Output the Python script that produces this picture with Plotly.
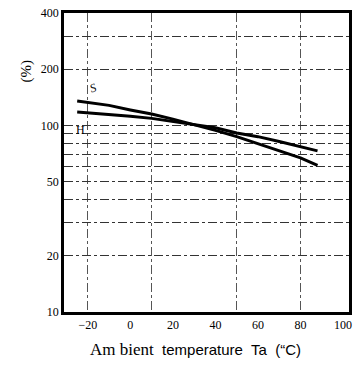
import math
import plotly.graph_objects as go

# Data (ambient temperature in degC vs. percent)
temp = [-25, -10, 0, 10, 20, 30, 40, 50, 60, 70, 80, 88]
s_vals = [135, 128, 121, 115, 108, 101, 94, 87, 80, 73, 67, 61]
h_vals = [118, 115, 112, 109, 105, 101, 97, 91, 87, 82, 77, 73]

x_ticks = [-20, 0, 20, 40, 60, 80, 100]
x_tick_text = ["\u221220", "0", "20", "40", "60", "80", "100"]
x_grid = [-20, 10, 50, 80]
y_ticks = [10, 20, 50, 100, 200, 400]
y_grid = [20, 30, 40, 50, 60, 70, 80, 90, 100, 200, 300]

serif = "Liberation Serif, Times New Roman, serif"
sans = "Liberation Sans, Arial, sans-serif"

fig = go.Figure()
fig.add_trace(go.Scatter(x=temp, y=s_vals, mode="lines", line=dict(color="black", width=3), showlegend=False))
fig.add_trace(go.Scatter(x=temp, y=h_vals, mode="lines", line=dict(color="black", width=3), showlegend=False))

fig.add_annotation(x=-17.5, y=math.log10(158), text="<i>S</i>", showarrow=False,
                   font=dict(family=serif, size=12, color="black"), textangle=-20)
fig.add_annotation(x=-23.5, y=math.log10(95), text="H", showarrow=False,
                   font=dict(family=serif, size=12, color="black"))
fig.add_annotation(xref="paper", yref="paper", x=-0.17, y=0.85, text="(%)", showarrow=False,
                   textangle=-90, font=dict(family=serif, size=15, color="black"))
fig.add_annotation(xref="paper", yref="paper", x=0.46, y=-0.127, yanchor="middle",
                   text='<span style="font-family:Liberation Serif;font-size:17px">Am bient</span>  temperature  Ta  (\u201cC)',
                   showarrow=False, font=dict(family=sans, size=15, color="black"))

fig.update_xaxes(range=[-31.2, 102.8], tickvals=x_ticks, ticktext=x_tick_text,
                 showgrid=False, zeroline=False, showline=True, linecolor="black", linewidth=2.5,
                 mirror=True, ticks="", tickfont=dict(family=serif, size=12, color="black"),
                 minor=dict(tickvals=x_grid, showgrid=True, gridcolor="#555", griddash="dashdot", gridwidth=1, ticks=""))
fig.update_yaxes(type="log", range=[1, math.log10(400)], tickvals=y_ticks,
                 showgrid=False, zeroline=False, showline=True, linecolor="black", linewidth=2.5,
                 mirror=True, ticks="", tickfont=dict(family=serif, size=12, color="black"),
                 minor=dict(tickvals=y_grid, showgrid=True, gridcolor="#333", griddash="dashdot", gridwidth=1, ticks=""))

fig.update_layout(width=355, height=371, margin=dict(l=64, r=3, t=13, b=59),
                  plot_bgcolor="white", paper_bgcolor="white")
fig.write_html("out.html")
